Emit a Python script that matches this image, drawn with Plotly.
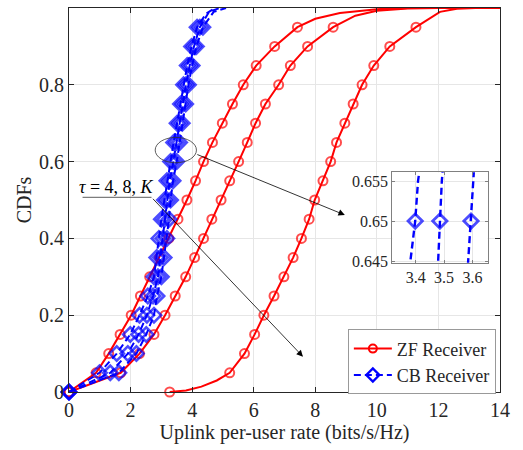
import plotly.graph_objects as go

# ---------------- data ----------------
cdf_levels = [0.00, 0.05, 0.10, 0.15, 0.20, 0.25, 0.30, 0.35, 0.40, 0.45,
              0.50, 0.55, 0.60, 0.65, 0.70, 0.75, 0.80, 0.85, 0.90, 0.95]

# ZF receiver, tau = 4, 8, K  (rates at the marked CDF levels)
zf_tau4_rate = [0.00, 0.88, 1.29, 1.66, 2.02, 2.32, 2.62, 2.94, 3.24, 3.54,
                3.83, 4.11, 4.37, 4.66, 4.98, 5.31, 5.66, 6.08, 6.68, 7.42]
zf_tau8_rate = [0.00, 1.68, 2.29, 2.76, 3.12, 3.45, 3.79, 4.08, 4.37, 4.64,
                4.94, 5.22, 5.51, 5.79, 6.06, 6.38, 6.81, 7.19, 7.75, 8.58]
zf_tauK_rate = [3.27, 5.22, 5.70, 6.03, 6.33, 6.66, 6.98, 7.28, 7.55, 7.80,
                7.98, 8.25, 8.50, 8.69, 8.96, 9.23, 9.52, 9.90, 10.42, 11.27]
# unmarked points of the ZF curves
zf_tau4_extra_rate = [8.0, 8.8, 10.0, 11.0, 14.0]
zf_tau4_extra_cdf = [0.972, 0.987, 0.997, 1.0, 1.0]
zf_tau8_extra_rate = [9.3, 10.0, 11.0, 12.0, 14.0]
zf_tau8_extra_cdf = [0.980, 0.993, 0.999, 1.0, 1.0]
zf_tauK_extra_rate = [3.8, 4.3, 4.8, 12.05, 12.6, 13.2, 14.0]
zf_tauK_extra_cdf = [0.004, 0.014, 0.030, 0.990, 0.998, 1.0, 1.0]

# CB receiver, tau = 4, 8, K
cb_tau4_rate = [0.00, 0.99, 1.55, 1.99, 2.29, 2.56, 2.76, 2.85, 2.92, 3.00,
                3.10, 3.18, 3.30, 3.398, 3.51, 3.62, 3.72, 3.84, 3.98, 4.16]
cb_tau8_rate = [0.00, 1.34, 1.91, 2.26, 2.53, 2.73, 2.89, 2.97, 3.05, 3.11,
                3.19, 3.27, 3.39, 3.485, 3.59, 3.70, 3.80, 3.92, 4.06, 4.25]
cb_tauK_rate = [0.00, 1.62, 2.19, 2.51, 2.76, 2.86, 3.00, 3.09, 3.18, 3.25,
                3.30, 3.38, 3.50, 3.595, 3.68, 3.79, 3.88, 4.00, 4.14, 4.35]
# unmarked points of the CB curves
cb_tau4_extra_rate = [3.381, 3.408, 4.45, 4.75]
cb_tau4_extra_cdf = [0.645, 0.655, 0.985, 1.0]
cb_tau8_extra_rate = [3.479, 3.492, 4.55, 4.90]
cb_tau8_extra_cdf = [0.645, 0.655, 0.990, 1.0]
cb_tauK_extra_rate = [3.585, 3.603, 4.70, 5.10]
cb_tauK_extra_cdf = [0.645, 0.655, 0.990, 1.0]

x_ticks = [0, 2, 4, 6, 8, 10, 12, 14]
y_ticks = [0, 0.2, 0.4, 0.6, 0.8, 1]
inset_x_ticks = [3.4, 3.5, 3.6]
inset_y_ticks = [0.645, 0.65, 0.655]

legend_names = ["ZF Receiver", "CB Receiver"]

# ---------------- styles ----------------
RED = "#ff0000"
BLUE = "#0000ff"
FONT = "Liberation Serif, Times New Roman, serif"
AXC = "#262626"
GRID = "#e6e6e6"


def merge(rate, extra_rate, extra_cdf, size):
    pts = [(c, r, size) for r, c in zip(rate, cdf_levels)]
    pts += [(c, r, 0) for r, c in zip(extra_rate, extra_cdf)]
    pts.sort(key=lambda p: (p[0], p[1]))
    return [p[1] for p in pts], [p[0] for p in pts], [p[2] for p in pts]


fig = go.Figure()

zf_sets = [(zf_tau4_rate, zf_tau4_extra_rate, zf_tau4_extra_cdf),
           (zf_tau8_rate, zf_tau8_extra_rate, zf_tau8_extra_cdf),
           (zf_tauK_rate, zf_tauK_extra_rate, zf_tauK_extra_cdf)]
cb_sets = [(cb_tau4_rate, cb_tau4_extra_rate, cb_tau4_extra_cdf),
           (cb_tau8_rate, cb_tau8_extra_rate, cb_tau8_extra_cdf),
           (cb_tauK_rate, cb_tauK_extra_rate, cb_tauK_extra_cdf)]

RED_MS, BLUE_MS = 9, 11

for r, er, ec in zf_sets:
    x, y, s = merge(r, er, ec, RED_MS)
    fig.add_trace(go.Scatter(
        x=x, y=y, mode="lines+markers", showlegend=False, cliponaxis=False,
        line=dict(color=RED, width=2),
        marker=dict(symbol="circle-open", size=s, color=RED, line=dict(width=2, color=RED))))

for r, er, ec in cb_sets:
    x, y, s = merge(r, er, ec, BLUE_MS)
    fig.add_trace(go.Scatter(
        x=x, y=y, mode="lines+markers", showlegend=False, cliponaxis=False,
        line=dict(color=BLUE, width=2, dash="7px,4px"),
        marker=dict(symbol="diamond-open", size=s, color=BLUE, line=dict(width=2.6, color=BLUE))))

# inset: same CB curves, zoomed
for r, er, ec in cb_sets:
    x, y, s = merge(r, er, ec, BLUE_MS)
    fig.add_trace(go.Scatter(
        x=x, y=y, mode="lines+markers", showlegend=False, xaxis="x2", yaxis="y2",
        line=dict(color=BLUE, width=2.4, dash="7px,4px"),
        marker=dict(symbol="diamond-open", size=s, color=BLUE, line=dict(width=2.8, color=BLUE))))

# legend entries
fig.add_trace(go.Scatter(
    x=[None], y=[None], mode="lines+markers", name=legend_names[0],
    line=dict(color=RED, width=2),
    marker=dict(symbol="circle-open", size=8, color=RED, line=dict(width=2, color=RED))))
fig.add_trace(go.Scatter(
    x=[None], y=[None], mode="lines+markers", name=legend_names[1],
    line=dict(color=BLUE, width=2, dash="7px,4px"),
    marker=dict(symbol="diamond-open", size=10, color=BLUE, line=dict(width=2.4, color=BLUE))))

axis_common = dict(
    ticks="inside", ticklen=5, tickcolor=AXC, showline=True, linecolor=AXC,
    linewidth=1, mirror="ticks", showgrid=True, gridcolor=GRID, gridwidth=1,
    zeroline=False, tickfont=dict(family=FONT, size=20, color=AXC),
)

fig.update_layout(
    width=523, height=450,
    margin=dict(l=69, r=23, t=8, b=58),
    paper_bgcolor="white", plot_bgcolor="white",
    font=dict(family=FONT, size=18, color=AXC),
    xaxis=dict(range=[0, 14], tickvals=x_ticks, domain=[0, 1],
               title=dict(text="Uplink per-user rate (bits/s/Hz)", font=dict(family=FONT, size=20, color=AXC), standoff=2),
               **axis_common),
    yaxis=dict(range=[0, 1], tickvals=y_ticks, domain=[0, 1],
               title=dict(text="CDFs", font=dict(family=FONT, size=20, color=AXC), standoff=2),
               **axis_common),
    xaxis2=dict(domain=[0.750, 0.9715], anchor="y2", range=[3.317, 3.654],
                tickvals=inset_x_ticks, ticks="inside", ticklen=3, tickcolor="#808080",
                showline=True, linecolor="#808080", linewidth=1, mirror="ticks",
                showgrid=True, gridcolor=GRID, zeroline=False,
                tickfont=dict(family=FONT, size=16, color=AXC)),
    yaxis2=dict(domain=[0.3367, 0.5721], anchor="x2", range=[0.6448, 0.6561],
                tickvals=inset_y_ticks, ticktext=["0.645", "0.65", "0.655"],
                ticks="inside", ticklen=3, tickcolor="#808080",
                showline=True, linecolor="#808080", linewidth=1, mirror="ticks",
                showgrid=True, gridcolor=GRID, zeroline=False,
                tickfont=dict(family=FONT, size=16, color=AXC)),
    legend=dict(x=0.647, y=0.163, xanchor="left", yanchor="top",
                bgcolor="white", bordercolor="#999999", borderwidth=1,
                font=dict(family=FONT, size=18, color=AXC), itemwidth=38,
                tracegroupgap=0),
    showlegend=True,
)

# ellipse around the CB curves at CDF 0.65
fig.add_shape(type="circle", xref="x", yref="y", x0=2.80, x1=4.14, y0=0.597, y1=0.663,
              line=dict(color="#333333", width=0.8))
# bracket line under the tau label
fig.add_shape(type="line", xref="x", yref="y", x0=0.44, x1=2.68, y0=0.507, y1=0.507,
              line=dict(color="#333333", width=0.8))

# arrows
fig.add_annotation(x=8.96, y=0.461, ax=4.12, ay=0.620, xref="x", yref="y", axref="x", ayref="y",
                   text="", showarrow=True, arrowhead=2, arrowsize=1.6, arrowwidth=0.8,
                   arrowcolor="black")
fig.add_annotation(x=7.60, y=0.092, ax=2.68, ay=0.507, xref="x", yref="y", axref="x", ayref="y",
                   text="", showarrow=True, arrowhead=2, arrowsize=1.6, arrowwidth=0.8,
                   arrowcolor="black")
# label
fig.add_annotation(x=1.55, y=0.535, xref="x", yref="y", showarrow=False,
                   text="<i>τ</i> = 4, 8, <i>K</i>",
                   font=dict(family=FONT, size=18, color="black"))

fig.write_html("out.html", config={"displayModeBar": False},
               post_script="document.body.style.margin='0px';")
